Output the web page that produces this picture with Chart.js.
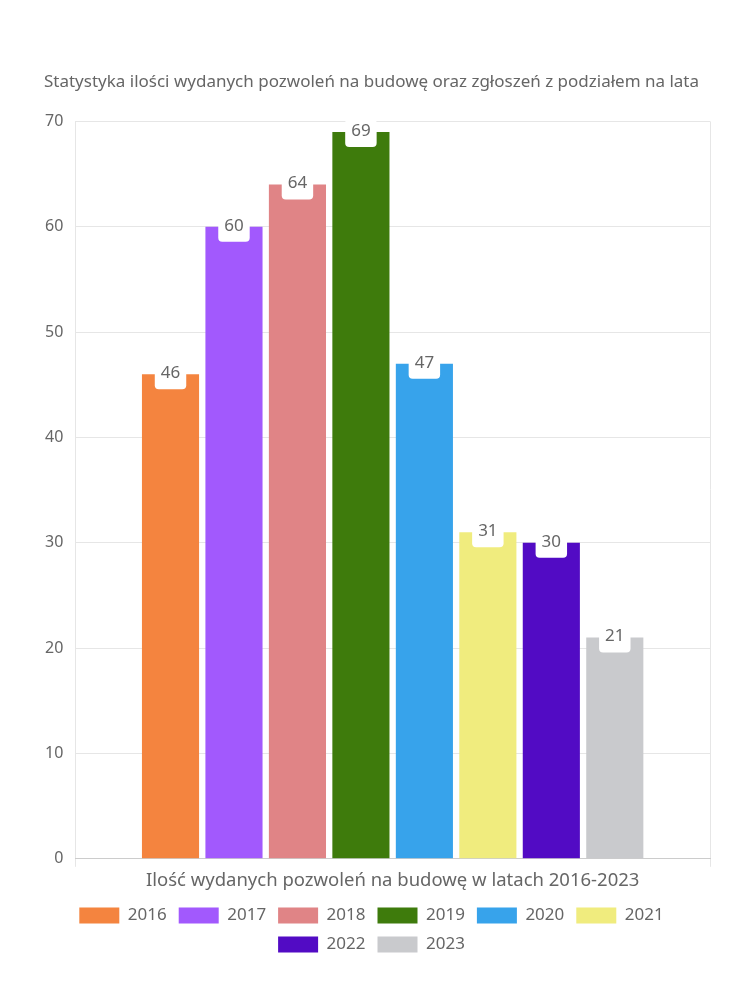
<!DOCTYPE html>
<html>
<head>
<meta charset="utf-8">
<script src="https://cdn.jsdelivr.net/npm/chart.js@4"></script>
<style>
    body { margin: 0; background: #fff; }
    #wrap { width: 750px; height: 1000px; }
</style>
</head>
<body>
<div id="wrap"><canvas id="chart" width="750" height="1000"></canvas></div>
<script>
(function() {
    'use strict';

    // Dane wykresu
    var categories = ['Ilość wydanych pozwoleń na budowę w latach 2016-2023'];
    var years = ['2016', '2017', '2018', '2019', '2020', '2021', '2022', '2023'];
    var permits = [46, 60, 64, 69, 47, 31, 30, 21];
    var yearColors = ['#f4843f', '#a259fd', '#e08486', '#3e7b0c', '#37a3eb', '#f0ec7e', '#520bc4', '#c9cacd'];
    var yTicks = [0, 10, 20, 30, 40, 50, 60, 70];

    var textColor = '#666666';
    var fontFamily = "'Noto Sans', sans-serif";

    // Etykiety wartości w białym zaokrąglonym polu na szczycie słupka
    var valueLabels = {
        id: 'valueLabels',
        afterDatasetsDraw: function(chart) {
            var ctx = chart.ctx;
            ctx.save();
            ctx.font = '17px ' + fontFamily;
            ctx.textAlign = 'center';
            ctx.textBaseline = 'middle';
            chart.data.datasets.forEach(function(ds, i) {
                var meta = chart.getDatasetMeta(i);
                meta.data.forEach(function(bar, j) {
                    var text = String(ds.data[j]);
                    var w = ctx.measureText(text).width + 12;
                    var x = bar.x - w / 2;
                    var y = bar.y - 13;
                    var h = 28;
                    ctx.fillStyle = '#ffffff';
                    ctx.beginPath();
                    ctx.roundRect(x, y, w, h, 4);
                    ctx.fill();
                    ctx.fillStyle = textColor;
                    ctx.fillText(text, bar.x, bar.y - 1);
                });
            });
            ctx.restore();
        }
    };

    var datasets = years.map(function(year, i) {
        return {
            label: year,
            data: [permits[i]],
            backgroundColor: yearColors[i],
            borderWidth: 0
        };
    });

    new Chart(document.getElementById('chart').getContext('2d'), {
        type: 'bar',
        data: {
            labels: categories,
            datasets: datasets
        },
        options: {
            responsive: false,
            animation: false,
            layout: {
                padding: { top: 72, right: 40, bottom: 37, left: 33 }
            },
            plugins: {
                title: {
                    display: true,
                    text: 'Statystyka ilości wydanych pozwoleń na budowę oraz zgłoszeń z podziałem na lata',
                    color: textColor,
                    font: { family: fontFamily, size: 17, weight: 'normal' },
                    padding: { top: 0, bottom: 29 }
                },
                legend: {
                    position: 'bottom',
                    labels: {
                        color: textColor,
                        boxWidth: 40,
                        boxHeight: 16,
                        padding: 12,
                        font: { family: fontFamily, size: 17 }
                    }
                },
                tooltip: { enabled: false }
            },
            scales: {
                y: {
                    min: 0,
                    max: 70,
                    afterBuildTicks: function(axis) {
                        axis.ticks = yTicks.map(function(v) { return { value: v }; });
                    },
                    grid: { color: '#e6e6e6', drawTicks: false },
                    border: { color: '#e6e6e6' },
                    ticks: {
                        color: textColor,
                        padding: 12,
                        font: { family: fontFamily, size: 16 }
                    }
                },
                x: {
                    grid: { color: '#e6e6e6', offset: true },
                    border: { color: '#cccccc' },
                    ticks: {
                        color: textColor,
                        padding: 3,
                        font: { family: fontFamily, size: 18.5 }
                    }
                }
            }
        },
        plugins: [valueLabels]
    });
})();
</script>
</body>
</html>
